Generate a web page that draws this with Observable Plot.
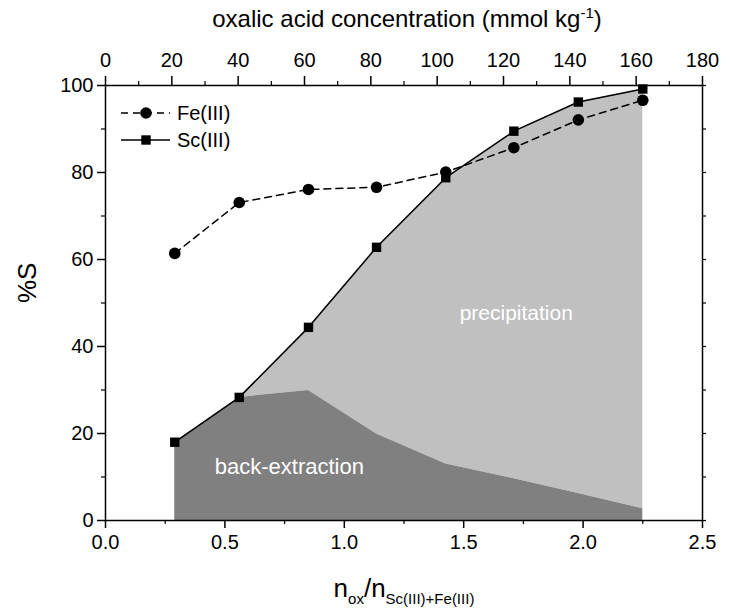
<!DOCTYPE html>
<html>
<head>
<meta charset="utf-8">
<script src="https://cdn.jsdelivr.net/npm/d3@7"></script>
<script src="https://cdn.jsdelivr.net/npm/@observablehq/plot@0.6"></script>
<style>
  body { margin: 0; background: #fff; }
  #wrap { position: relative; width: 734px; height: 608px; font-family: "Liberation Sans", Arial, sans-serif; color: #000; }
  #wrap > svg.main { position: absolute; left: 0; top: 0; }
  .title-top { position: absolute; left: 407px; top: 7px; transform: translateX(-50%); font-size: 24px; line-height: 24px; white-space: nowrap; }
  .title-bottom { position: absolute; left: 404px; top: 575px; transform: translateX(-50%); font-size: 26px; line-height: 26px; white-space: nowrap; }
  .title-top sup { font-size: 15px; line-height: 0; vertical-align: 9px; }
  .title-bottom sub { font-size: 15px; line-height: 0; vertical-align: -7px; }
  #wrap > svg.legend { position: absolute; left: 115px; top: 98px; }
</style>
</head>
<body>
<div id="wrap">
  <div class="title-top">oxalic acid concentration (mmol kg<sup>-1</sup>)</div>
  <div class="title-bottom">n<sub>ox</sub>/n<sub>Sc(III)+Fe(III)</sub></div>
</div>
<script>
// Molar ratio n_ox / n_Sc(III)+Fe(III) of each experiment
const ratio = [0.29, 0.56, 0.85, 1.135, 1.425, 1.71, 1.98, 2.25];
// Stripping yield %S for each metal
const feS = [61.4, 73.1, 76.1, 76.6, 80.1, 85.7, 92.1, 96.6];
const scS = [18.0, 28.3, 44.4, 62.8, 78.8, 89.5, 96.2, 99.2];
// Part of the Sc(III) yield that stays in solution (back-extraction); the rest precipitates
const scBackExtraction = [18.0, 28.3, 29.9, 19.9, 13.0, 9.6, 6.2, 2.7];

// Oxalic acid concentration (mmol kg-1) per unit of molar ratio
const concPerRatio = 72;

const ratioTicks = [0, 0.5, 1.0, 1.5, 2.0, 2.5];
const ratioMinorTicks = [0.25, 0.75, 1.25, 1.75, 2.25];
const concTicks = [0, 20, 40, 60, 80, 100, 120, 140, 160, 180];
const concMinorTicks = [10, 30, 50, 70, 90, 110, 130, 150, 170];
const yTicks = [0, 20, 40, 60, 80, 100];
const yMinorTicks = [10, 30, 50, 70, 90];

const seriesNames = ["Fe(III)", "Sc(III)"];

const rows = ratio.map((r, i) => ({ r, fe: feS[i], sc: scS[i], back: scBackExtraction[i] }));

const chart = Plot.plot({
  width: 734,
  height: 608,
  marginLeft: 105,
  marginRight: 32,
  marginTop: 85,
  marginBottom: 88,
  x: { domain: [0, 2.5] },
  y: { domain: [0, 100] },
  style: { fontFamily: "'Liberation Sans', Arial, sans-serif", fontSize: "20px", color: "#000", background: "transparent", overflow: "visible" },
  marks: [
    // shaded regions: precipitation on top of back-extraction
    Plot.areaY(rows, { x: "r", y1: "back", y2: "sc", fill: "#c0c0c0" }),
    Plot.areaY(rows, { x: "r", y1: 0, y2: "back", fill: "#808080" }),
    Plot.text(["precipitation"], { x: 1.72, y: 47.6, text: d => d, fill: "white", fontSize: 21 }),
    Plot.text(["back-extraction"], { x: 0.77, y: 12.2, text: d => d, fill: "white", fontSize: 22 }),

    // series
    Plot.line(rows, { x: "r", y: "fe", stroke: "black", strokeWidth: 1.5, strokeDasharray: "7,5" }),
    Plot.line(rows, { x: "r", y: "sc", stroke: "black", strokeWidth: 1.5 }),
    Plot.dot(rows, { x: "r", y: "fe", r: 5.8, fill: "black", symbol: "circle" }),
    Plot.dot(rows, { x: "r", y: "sc", r: 5.3, fill: "black", symbol: "square" }),

    Plot.frame({ stroke: "black", strokeWidth: 1.5 }),

    // bottom axis: molar ratio
    Plot.axisX({ anchor: "bottom", ticks: ratioTicks, tickSize: 8, tickPadding: 6, tickFormat: d3.format(".1f"), label: null, strokeWidth: 1.5 }),
    Plot.axisX({ anchor: "bottom", ticks: ratioMinorTicks, tickSize: 4, tickFormat: () => "", label: null, strokeWidth: 1.2 }),

    // top axis: oxalic acid concentration
    Plot.axisX({ anchor: "top", ticks: concTicks.map(c => c / concPerRatio), tickSize: 10, tickPadding: 9,
      tickFormat: d => String(Math.round(d * concPerRatio)), label: null, strokeWidth: 1.5 }),
    Plot.axisX({ anchor: "top", ticks: concMinorTicks.map(c => c / concPerRatio), tickSize: 5, tickFormat: () => "", label: null, strokeWidth: 1.2 }),

    // left axis
    Plot.axisY({ anchor: "left", ticks: yTicks, tickSize: 8, tickPadding: 4, label: null, strokeWidth: 1.5 }),
    Plot.axisY({ anchor: "left", ticks: yMinorTicks, tickSize: 4, tickFormat: () => "", label: null, strokeWidth: 1.2 }),
    // right axis (ticks only)
    Plot.axisY({ anchor: "right", ticks: yTicks.concat(yMinorTicks), tickSize: 3, tickFormat: () => "", label: null, strokeWidth: 1.2 }),

    // y axis title
    Plot.text(["%S"], { frameAnchor: "left", dx: -78, rotate: -90, text: d => d, fontSize: 26 })
  ]
});
chart.classList.add("main");

const wrap = document.getElementById("wrap");
wrap.insertBefore(chart, wrap.firstChild);

// legend inside the plot area
const legend = d3.select(wrap).append("svg")
  .attr("class", "legend")
  .attr("width", 150)
  .attr("height", 60)
  .style("font-family", "'Liberation Sans', Arial, sans-serif");
seriesNames.forEach((name, i) => {
  const g = legend.append("g").attr("transform", `translate(0,${15 + i * 27})`);
  g.append("line").attr("x1", 6).attr("x2", 55).attr("y1", 0).attr("y2", 0)
    .attr("stroke", "black").attr("stroke-width", 1.5)
    .attr("stroke-dasharray", i === 0 ? "7,5" : null);
  if (i === 0) g.append("circle").attr("cx", 31).attr("cy", 0).attr("r", 5.8).attr("fill", "black");
  else g.append("rect").attr("x", 26.3).attr("y", -4.7).attr("width", 9.4).attr("height", 9.4).attr("fill", "black");
  g.append("text").attr("x", 62).attr("y", 7).attr("font-size", 20).text(name);
});
</script>
</body>
</html>
